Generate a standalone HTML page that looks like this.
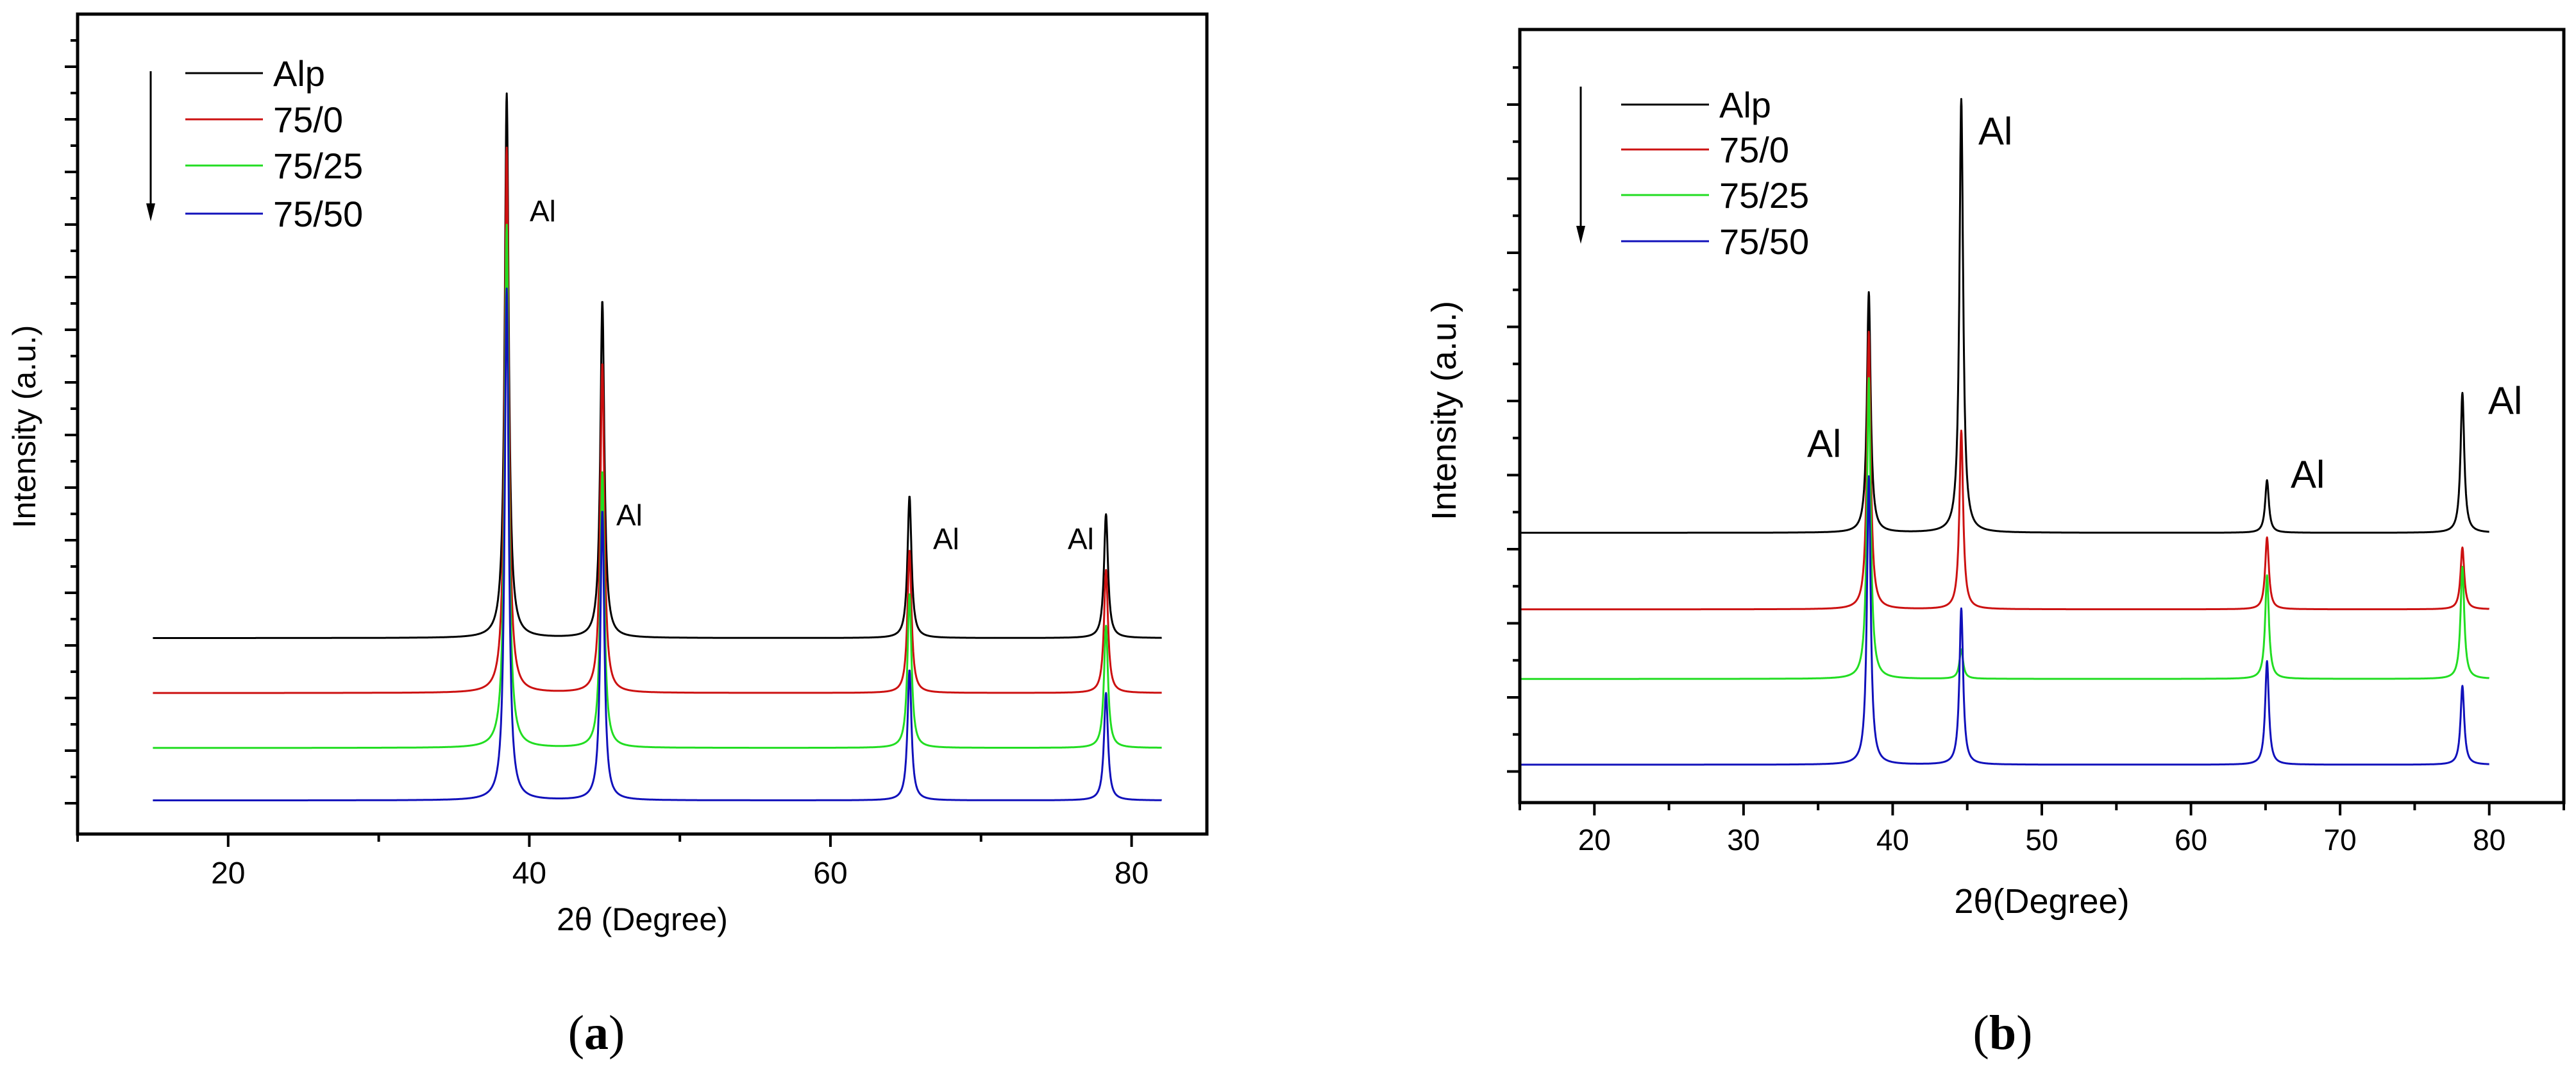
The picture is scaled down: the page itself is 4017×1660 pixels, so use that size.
<!DOCTYPE html>
<html><head><meta charset="utf-8"><style>
html,body{margin:0;padding:0;background:#fff;}
svg{display:block;font-family:"Liberation Sans",Arial,sans-serif;}
</style></head><body>
<svg id="fig" width="4017" height="1660" viewBox="0 0 4017 1660"></svg>
<script>
// ---------- data ----------
const seriesNames = ["Alp", "75/0", "75/25", "75/50"];
const seriesColors = ["#000000", "#cc1111", "#22dd22", "#1111bb"];
// Panel (a)
const aPeakPositions = [38.5, 44.85, 65.25, 78.3];
const aBaselines = [23.9, 17.2, 10.5, 4.1];
const aPeakTops = [
  [90.3, 65.0, 41.2, 39.0],
  [83.7, 57.4, 34.6, 32.2],
  [74.3, 44.2, 29.3, 25.4],
  [66.5, 39.4, 20.0, 17.2]
];
const aXTicks = [20, 40, 60, 80];
const aXMinor = [10, 30, 50, 70];
// Panel (b)
const bPeakPositions = [38.4, 44.6, 65.1, 78.2];
const bBaselines = [34.9, 25.0, 16.0, 4.9];
const bPeakTops = [
  [66.0, 91.0, 41.7, 53.0],
  [60.9, 48.1, 34.3, 33.0],
  [54.9, 19.8, 29.4, 30.5],
  [42.2, 25.1, 18.3, 15.1]
];
const bXTicks = [20, 30, 40, 50, 60, 70, 80];
const bXMinor = [15, 25, 35, 45, 55, 65, 75, 85];

// ---------- helpers ----------
const NS = "http://www.w3.org/2000/svg";
const svg = document.getElementById("fig");
function mk(tag, attrs, parent) {
  const e = document.createElementNS(NS, tag);
  for (const k in attrs) e.setAttribute(k, attrs[k]);
  (parent || svg).appendChild(e);
  return e;
}

function panel(cfg) {
  const g = mk("g", {});
  
  
  const X = v => cfg.left + (v - cfg.xmin) / (cfg.xmax - cfg.xmin) * (cfg.right - cfg.left);
  const Y = v => cfg.bottom - v / 100 * (cfg.bottom - cfg.top);

  for (let s = 0; s < 4; s++) {
    let d = "";
    const base = cfg.baselines[s];
    for (let x = cfg.dataMin; x <= cfg.dataMax + 1e-9; x += 0.02) {
      let v = base;
      for (let p = 0; p < cfg.positions.length; p++) {
        const h = cfg.tops[s][p] - base;
        const dx = (x - cfg.positions[p]) / cfg.gamma;
        v += h / (1 + dx * dx);
      }
      d += (d ? "L" : "M") + X(x).toFixed(1) + " " + Y(v).toFixed(1);
    }
    const path = mk("path", {d: d, fill: "none", stroke: seriesColors[s], "stroke-width": 3, "stroke-linejoin": "round"}, g);
    
    
  }

  const fr = mk("rect", {x: cfg.left, y: cfg.top, width: cfg.right - cfg.left, height: cfg.bottom - cfg.top, fill: "none", stroke: "#000", "stroke-width": 5}, g);
  
  

  cfg.xTicks.forEach(t => {
    mk("line", {x1: X(t), x2: X(t), y1: cfg.bottom, y2: cfg.bottom + 20, stroke: "#000", "stroke-width": 4}, g);
    const tx = mk("text", {x: X(t), y: cfg.bottom + cfg.tickLabelDy, "font-size": cfg.tickFont, "text-anchor": "middle"}, g);
    tx.textContent = t;
    
    
  });
  cfg.xMinor.forEach(t => {
    mk("line", {x1: X(t), x2: X(t), y1: cfg.bottom, y2: cfg.bottom + 12, stroke: "#000", "stroke-width": 4}, g);
  });
  for (let y = cfg.yMajor0; y < cfg.bottom - 10; y += cfg.yStep) {
    mk("line", {x1: cfg.left - 20, x2: cfg.left, y1: y, y2: y, stroke: "#000", "stroke-width": 4}, g);
  }
  for (let y = cfg.yMajor0 - cfg.yStep / 2; y < cfg.bottom - 10; y += cfg.yStep) {
    if (y > cfg.top + 5) mk("line", {x1: cfg.left - 11, x2: cfg.left, y1: y, y2: y, stroke: "#000", "stroke-width": 4}, g);
  }

  const xt = mk("text", {x: (cfg.left + cfg.right) / 2, y: cfg.xTitleY, "font-size": cfg.titleFont, "text-anchor": "middle"}, g);
  xt.textContent = "2θ" + cfg.xTitleGap + "(Degree)";
  
  
  const yt = mk("text", {x: 0, y: 0, "font-size": cfg.titleFont, "text-anchor": "middle", transform: `translate(${cfg.yTitleX},${cfg.yTitleY}) rotate(-90)`}, g);
  yt.textContent = "Intensity (a.u.)";
  
  

  const lg = mk("g", {}, g);
  
  
  mk("line", {x1: cfg.arrowX, x2: cfg.arrowX, y1: cfg.arrowY1, y2: cfg.arrowY2 - 20, stroke: "#000", "stroke-width": 3}, lg);
  mk("path", {d: `M${cfg.arrowX - 7} ${cfg.arrowY2 - 28} L${cfg.arrowX + 7} ${cfg.arrowY2 - 28} L${cfg.arrowX} ${cfg.arrowY2} Z`, fill: "#000"}, lg);
  for (let s = 0; s < 4; s++) {
    const ly = cfg.legendRows[s];
    const ln = mk("line", {x1: cfg.legX1, x2: cfg.legX2, y1: ly, y2: ly, stroke: seriesColors[s], "stroke-width": 3}, lg);
    
    
    const lt = mk("text", {x: cfg.legX2 + 16, y: ly + cfg.legFont * 0.36, "font-size": cfg.legFont}, lg);
    lt.textContent = seriesNames[s];
    
    
  }
  cfg.annots.forEach(a => {
    const t = mk("text", {x: a[0], y: a[1], "font-size": cfg.annFont}, g);
    t.textContent = "Al";
    
    
  });
  const cap = mk("text", {x: cfg.capX, y: 1635, "font-size": 76, "text-anchor": "middle", "font-family": "Liberation Serif, serif"}, g);
  cap.innerHTML = '(<tspan font-weight="bold">' + cfg.capLetter + '</tspan>)';
  
  
}

panel({
  name: "panel-a", left: 121, right: 1882, top: 22, bottom: 1300, xmin: 10, xmax: 85,
  dataMin: 15, dataMax: 82, positions: aPeakPositions, baselines: aBaselines, tops: aPeakTops, gamma: 0.16,
  xTicks: aXTicks, xMinor: aXMinor, tickFont: 48, tickLabelDy: 77,
  yMajor0: 104, yStep: 82,
  titleFont: 50, xTitleY: 1450, xTitleGap: " ", yTitleX: 55, yTitleY: 665,
  arrowX: 235, arrowY1: 111, arrowY2: 345, legX1: 289, legX2: 410, legFont: 56,
  legendRows: [114, 186, 258, 333],
  annFont: 46, annots: [[826, 345], [961, 819], [1455, 856], [1665, 856]],
  capX: 930, capLetter: "a"
});
panel({
  name: "panel-b", left: 2370, right: 3998, top: 46, bottom: 1251, xmin: 15, xmax: 85,
  dataMin: 15, dataMax: 80, positions: bPeakPositions, baselines: bBaselines, tops: bPeakTops, gamma: 0.15,
  xTicks: bXTicks, xMinor: bXMinor, tickFont: 46, tickLabelDy: 74,
  yMajor0: 163, yStep: 115.5,
  titleFont: 54, xTitleY: 1423, xTitleGap: "", yTitleX: 2270, yTitleY: 640,
  arrowX: 2465, arrowY1: 135, arrowY2: 380, legX1: 2528, legX2: 2665, legFont: 56,
  legendRows: [163, 233, 304, 376],
  annFont: 60, annots: [[3085, 225], [2818, 712], [3572, 760], [3880, 645]],
  capX: 3123, capLetter: "b"
});
</script>
</body></html>
